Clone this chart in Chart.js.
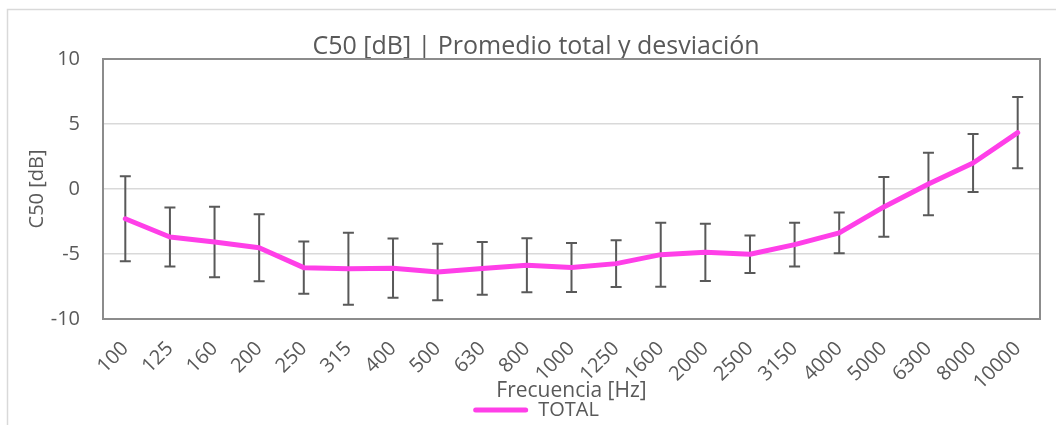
<!DOCTYPE html>
<html><head><meta charset="utf-8">
<script src="https://cdn.jsdelivr.net/npm/chart.js@4"></script>
<style>html,body{margin:0;padding:0;background:#fff;overflow:hidden}</style>
</head><body>
<canvas id="c" width="1056" height="425"></canvas>
<script>
const categories = ['100','125','160','200','250','315','400','500','630','800','1000','1250','1600','2000','2500','3150','4000','5000','6300','8000','10000'];
const means = [-2.29,-3.69,-4.08,-4.52,-6.05,-6.13,-6.09,-6.39,-6.11,-5.86,-6.04,-5.74,-5.05,-4.87,-5.02,-4.28,-3.38,-1.38,0.39,2.0,4.34];
const stdDevs = [3.27,2.27,2.71,2.58,2.01,2.77,2.28,2.17,2.03,2.08,1.88,1.79,2.46,2.2,1.45,1.69,1.57,2.3,2.4,2.24,2.74];
const yMin = -10, yMax = 10, yStep = 5;
const titleText = 'C50 [dB] | Promedio total y desviación';
const xTitle = 'Frecuencia [Hz]';
const yTitle = 'C50 [dB]';
const seriesName = 'TOTAL';

const FONT = "'Open Sans', 'Noto Sans', sans-serif";
const TEXT = '#595959';
const MAGENTA = '#FF3FE8';

const errorBars = {
  id: 'errorBars',
  beforeDatasetsDraw(chart) {
    const {ctx, scales: {x, y}} = chart;
    ctx.save();
    ctx.strokeStyle = '#595959';
    ctx.lineWidth = 2;
    means.forEach((m, i) => {
      const px = x.getPixelForValue(i);
      const top = y.getPixelForValue(m + stdDevs[i]);
      const bot = y.getPixelForValue(m - stdDevs[i]);
      ctx.beginPath();
      ctx.moveTo(px, top); ctx.lineTo(px, bot);
      ctx.moveTo(px - 5.5, top); ctx.lineTo(px + 5.5, top);
      ctx.moveTo(px - 5.5, bot); ctx.lineTo(px + 5.5, bot);
      ctx.stroke();
    });
    ctx.restore();
  }
};

const frames = {
  id: 'frames',
  beforeDraw(chart) {
    const {ctx} = chart;
    ctx.save();
    ctx.strokeStyle = '#d9d9d9';
    ctx.lineWidth = 1.5;
    ctx.beginPath();
    ctx.moveTo(7.5, chart.height); ctx.lineTo(7.5, 9.5); ctx.lineTo(chart.width, 9.5);
    ctx.stroke();
    ctx.restore();
  },
  beforeDatasetsDraw(chart) {
    const {ctx, chartArea: a} = chart;
    ctx.save();
    ctx.strokeStyle = '#8c8c8c';
    ctx.lineWidth = 2;
    ctx.strokeRect(a.left, a.top, a.right - a.left, a.bottom - a.top);
    ctx.restore();
  }
};

new Chart(document.getElementById('c'), {
  type: 'line',
  data: {
    labels: categories,
    datasets: [{
      label: seriesName,
      data: means,
      borderColor: MAGENTA,
      backgroundColor: MAGENTA,
      borderWidth: 5,
      pointRadius: 0,
      tension: 0,
      fill: false,
      borderCapStyle: 'round',
      borderJoinStyle: 'round'
    }]
  },
  options: {
    responsive: false,
    animation: false,
    devicePixelRatio: 1,
    layout: {padding: {left: 32, right: 16, top: 0, bottom: 0}},
    plugins: {
      title: {
        display: true,
        text: titleText,
        color: TEXT,
        font: {family: FONT, size: 25, weight: 'normal', lineHeight: 1},
        padding: {top: 34, bottom: 0}
      },
      legend: {
        display: true,
        position: 'bottom',
        maxHeight: 30,
        labels: {
          boxWidth: 55,
          boxHeight: 5,
          padding: 5,
          color: TEXT,
          font: {family: FONT, size: 20},
          useBorderRadius: true,
          borderRadius: 2.5,
          generateLabels(chart) {
            const items = Chart.defaults.plugins.legend.labels.generateLabels(chart);
            items.forEach(it => { it.lineWidth = 0; it.fillStyle = MAGENTA; it.strokeStyle = MAGENTA; });
            return items;
          }
        }
      },
      tooltip: {enabled: false}
    },
    scales: {
      x: {
        type: 'category',
        offset: true,
        grid: {display: false, offset: true},
        border: {display: false},
        ticks: {
          autoSkip: false,
          maxRotation: 45,
          minRotation: 45,
          padding: 10,
          color: TEXT,
          font: {family: FONT, size: 20}
        },
        title: {
          display: true,
          text: xTitle,
          color: TEXT,
          font: {family: FONT, size: 21},
          padding: {top: 0, bottom: -9}
        },
        afterFit(scale) { scale.height = 76; }
      },
      y: {
        min: yMin,
        max: yMax,
        grid: {
          drawTicks: false,
          lineWidth: 1.5,
          color: (c) => (c.tick && (c.tick.value === yMin || c.tick.value === yMax)) ? 'rgba(0,0,0,0)' : '#d9d9d9'
        },
        border: {display: false},
        ticks: {
          stepSize: yStep,
          padding: 23,
          color: TEXT,
          font: {family: FONT, size: 20}
        },
        title: {
          display: true,
          text: yTitle,
          color: TEXT,
          font: {family: FONT, size: 20},
          padding: {top: -7, bottom: 0}
        },
        afterFit(scale) { scale.width = 71; }
      }
    }
  },
  plugins: [frames, errorBars]
});
</script>
</body></html>
